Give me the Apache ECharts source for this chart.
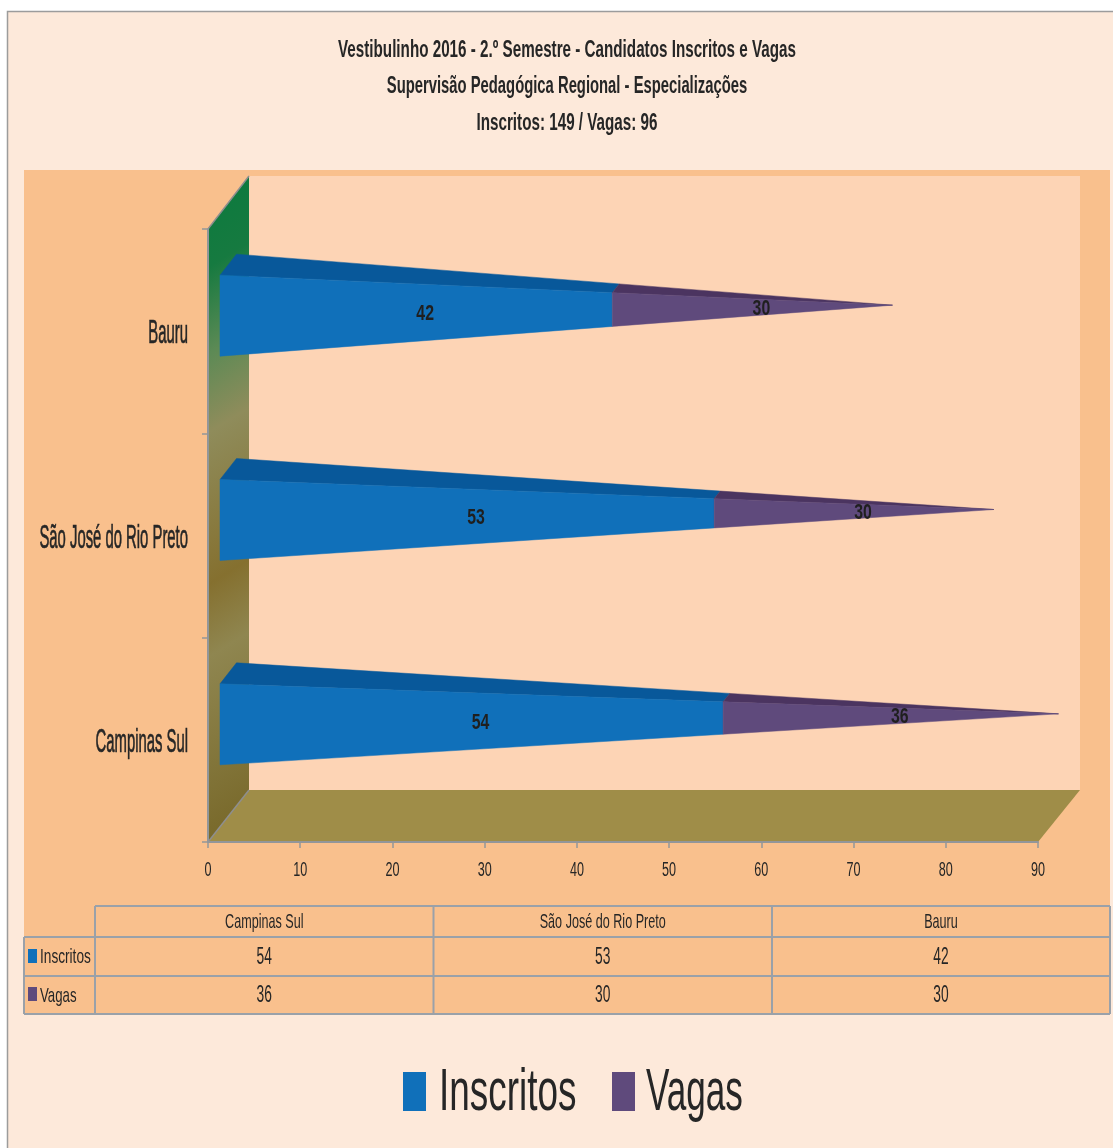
<!DOCTYPE html>
<html><head><meta charset="utf-8">
<style>html,body{margin:0;padding:0;background:#fff}#c{width:1113px;height:1148px}</style>
<script src="https://cdn.jsdelivr.net/npm/echarts@6/dist/echarts.min.js"></script>
</head><body><div id="c"></div>
<script>
const titleLines = ['Vestibulinho 2016 - 2.º Semestre - Candidatos Inscritos e Vagas','Supervisão Pedagógica Regional - Especializações','Inscritos: 149 / Vagas: 96'];
const categories = ['Campinas Sul','São José do Rio Preto','Bauru'];
const inscritos = [54,53,42];
const vagas = [36,30,30];
const xTicks = [0,10,20,30,40,50,60,70,80,90];
const FONT = '"Liberation Sans",sans-serif';
const INK = '#262626', LINE = '#9AA1A9';
const BLUE='#1070BA', BLUE_TOP='#08589A', PURPLE='#5F4A7C', PURPLE_TOP='#4B3460';

const chart = echarts.init(document.getElementById('c'));

function txt(text,x,y,size,sx,align,bold,z){
  return {type:'text',x,y,scaleX:sx,z:z||4,silent:true,style:{text,fill:INK,align:align||'center',verticalAlign:'middle',
    font:(bold?'bold ':'')+size+'px '+FONT}};
}
function ln(x1,y1,x2,y2){return {type:'line',z:4,silent:true,shape:{x1,y1,x2,y2},style:{stroke:LINE,lineWidth:2}};}
function poly(points,fill,z){return {type:'polygon',z,silent:true,shape:{points},style:{fill}};}
function box(x,y,width,height,fill,z){return {type:'rect',z,silent:true,shape:{x,y,width,height},style:{fill}};}

const cols=[95,433.5,772,1110], rows=[906,937,976,1014];
const tableEls=[
  ln(95,rows[0],1110,rows[0]),ln(24,rows[1],1110,rows[1]),ln(24,rows[2],1110,rows[2]),ln(24,rows[3],1110,rows[3]),
  ln(24,rows[1],24,rows[3]),ln(95,rows[0],95,rows[3]),ln(433.5,rows[0],433.5,rows[3]),ln(772,rows[0],772,rows[3]),ln(1110,rows[0],1110,rows[3]),
  box(28,949,9,14,BLUE,4),box(28,987,9,14,PURPLE,4),
  txt('Inscritos',40,957,21,.65,'left'),txt('Vagas',40,996,21,.63,'left')
];
categories.forEach((c,i)=>{
  const cx=(cols[i]+cols[i+1])/2;
  tableEls.push(txt(c,cx,922.5,21,.6));
  tableEls.push(txt(String(inscritos[i]),cx,958,23,.6));
  tableEls.push(txt(String(vagas[i]),cx,996,23,.6));
});
const titleY=[50,86,123];
const titleScale=[.634,.617,.634];
const titleEls=titleLines.map((t,i)=>txt(t,567,titleY[i],24,titleScale[i],'center',true));
const legendEls=[
  box(403,1072,23,39,BLUE,4),box(612,1072,23,39,PURPLE,4),
  txt('Inscritos',439,1093,60,.615,'left'),txt('Vagas',646,1093,60,.585,'left')
];

const graphicEls=[
  {type:'rect',z:0,silent:true,shape:{x:7.5,y:11.5,width:1120,height:1150},style:{fill:'#FDE9DA',stroke:'#9C9C9C',lineWidth:1.5}},
  box(24,170,1086,844,'#F9C08D',0),
  poly([[249,176],[1080,176],[1080,790],[249,790]],'#FDD4B5',1),
  poly([[208,842],[1038,842],[1080,790],[249,790]],'#9F8D48',1),
  poly([[208,229],[249,176],[249,790],[208,842]],new echarts.graphic.LinearGradient(228,176,522,657,[
    {offset:0,color:'#0C7A3E'},{offset:.12,color:'#167A40'},{offset:.25,color:'#5C8A55'},{offset:.37,color:'#8F8C5B'},
    {offset:.6,color:'#85702F'},{offset:.71,color:'#8F8650'},{offset:1,color:'#786829'}],true),2),
  {type:'line',z:3,silent:true,shape:{x1:208,y1:229,x2:249,y2:176},style:{stroke:'#8E8E8E',lineWidth:1.5}},
  {type:'line',z:3,silent:true,shape:{x1:208,y1:842,x2:249,y2:790},style:{stroke:'#8E8E8E',lineWidth:1.5}},
].concat(tableEls,titleEls,legendEls);

// tapered bar geometry relative to the category band centre
function geo(api,catIdx,total){
  const o=api.coord([0,catIdx]), t=api.coord([total,catIdx]);
  const L=o[0]+12, T=t[0]+20.5, c=o[1];
  const ft=[L,c-56], fb=[L,c+25], bt=[L+16.5,c-77], tip=[T,c-26];
  const at=(a,f)=>[a[0]+(tip[0]-a[0])*f,a[1]+(tip[1]-a[1])*f];
  return {ft,fb,bt,tip,at};
}
function makeRender(fill,top){
  return function(params,api){
    const cat=api.value(0), from=api.value(1), to=api.value(2), total=api.value(3);
    const g=geo(api,cat,total), f0=from/total, f1=to/total;
    const center=[(g.ft[0]+g.fb[0])/2,(g.ft[1]+g.fb[1])/2];
    const c0=g.at(center,f0), c1=g.at(center,f1);
    const lx=(c0[0]+c1[0])/2+9, ly=c0[1]+(g.tip[1]-c0[1])*((lx-c0[0])/(g.tip[0]-c0[0]));
    return {type:'group',children:[
      {type:'polygon',shape:{points:[g.at(g.bt,f0),g.at(g.bt,f1),g.at(g.ft,f1),g.at(g.ft,f0)]},style:{fill:top,stroke:top,lineWidth:.5}},
      {type:'polygon',shape:{points:[g.at(g.ft,f0),g.at(g.ft,f1),g.at(g.fb,f1),g.at(g.fb,f0)]},style:{fill,stroke:fill,lineWidth:.5}},
      {type:'text',x:lx,y:ly+1.5,scaleX:.72,z2:10,style:{text:String(to-from),fill:'#1F1F1F',align:'center',verticalAlign:'middle',font:'bold 22px '+FONT}}
    ]};
  };
}
const inscritosData=categories.map((c,i)=>[i,0,inscritos[i],inscritos[i]+vagas[i]]);
const vagasData=categories.map((c,i)=>[i,inscritos[i],inscritos[i]+vagas[i],inscritos[i]+vagas[i]]);

chart.setOption({
  animation:false,
  backgroundColor:'#fff',
  textStyle:{fontFamily:FONT},
  grid:{left:208,width:830,top:229,height:613,containLabel:false},
  xAxis:{type:'value',min:0,max:90,interval:10,z:4,
    splitLine:{show:false},
    axisLine:{show:true,lineStyle:{color:'#929699',width:2}},
    axisTick:{show:true,length:6,lineStyle:{color:'#929699',width:1.5}},
    axisLabel:{show:false}},
  yAxis:{type:'category',data:categories,z:4,
    axisLine:{show:true,lineStyle:{color:'#929699',width:2}},
    axisTick:{show:true,length:6,alignWithLabel:false,lineStyle:{color:'#929699',width:1.5}},
    axisLabel:{show:false},splitLine:{show:false}},
  graphic:{elements:graphicEls},
  series:[
    {type:'custom',name:'Inscritos',z:5,itemStyle:{color:BLUE},renderItem:makeRender(BLUE,BLUE_TOP),data:inscritosData,encode:{x:2,y:0}},
    {type:'custom',name:'Vagas',z:5,itemStyle:{color:PURPLE},renderItem:makeRender(PURPLE,PURPLE_TOP),data:vagasData,encode:{x:2,y:0}},
    {type:'custom',name:'categoryLabels',z:5,silent:true,data:categories.map((c,i)=>[i]),
      renderItem(params,api){
        const i=api.value(0), o=api.coord([0,i]);
        return {type:'text',x:o[0]-20,y:o[1]+3,scaleX:.45,style:{text:categories[i],fill:INK,stroke:INK,lineWidth:.7,align:'right',verticalAlign:'middle',font:'33px '+FONT}};
      }},
    {type:'custom',name:'xTickLabels',z:5,silent:true,data:xTicks.map(v=>[v,0]),encode:{x:0,y:1},
      renderItem(params,api){
        const v=api.value(0), o=api.coord([v,0]);
        return {type:'text',x:o[0],y:o[1]+api.size([0,1])[1]/2+28.5,scaleX:.63,style:{text:String(v),fill:INK,align:'center',verticalAlign:'middle',font:'20px '+FONT}};
      }}
  ]
});
</script></body></html>
